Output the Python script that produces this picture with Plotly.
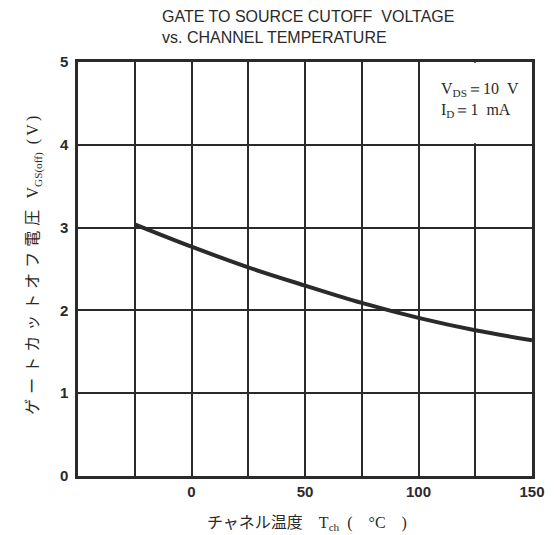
import plotly.graph_objects as go

temps = [-25, 0, 25, 50, 75, 100, 125, 150]
vgs_off = [3.04, 2.77, 2.52, 2.30, 2.09, 1.91, 1.76, 1.64]
x_ticks = [0, 50, 100, 150]
y_ticks = [0, 1, 2, 3, 4, 5]

title_line1 = "GATE TO SOURCE CUTOFF  VOLTAGE"
title_line2 = "vs. CHANNEL TEMPERATURE"

SERIF = "Liberation Serif, DejaVu Serif, serif"
CJK = "Noto Sans CJK JP, sans-serif"
SANS = "Liberation Sans, Arial, sans-serif"

def cjk(text):
    return f"<span style='font-family:{CJK}'>{text}</span>"

gap = "\u2005\u200a"
jp_y = gap.join(list("ゲートカットオフ電圧"))
y_title = (cjk(jp_y) + "\u2002\u2009" + "V<sub>GS(off)</sub>"
           + "\u2002" + "(\u2009V\u2009)")
x_title = (cjk("チャネル温度") + "\u2002\u2002" + "T<sub>ch</sub>"
           + "\u2002" + "(\u2002\u2002°C\u2002\u2002)")
cond_text = "V<sub>DS</sub>＝10\u2002V<br>I<sub>D</sub>＝1\u2002mA"

ink = "#2a2a2a"

fig = go.Figure()
fig.add_trace(go.Scatter(
    x=temps, y=vgs_off, mode="lines",
    line=dict(color=ink, width=4, shape="spline"),
    hoverinfo="skip", showlegend=False,
))

# blank region behind the condition label (hides the 125 gridline there)
fig.add_shape(type="rect", xref="x", yref="y", x0=101, x1=149.5, y0=4.02, y1=4.99,
              fillcolor="white", line=dict(width=0), layer="between")

fig.add_annotation(x=109, y=4.54, xref="x", yref="y", text=cond_text, showarrow=False,
                   xanchor="left", yanchor="middle", align="left",
                   font=dict(family=SERIF, size=16, color=ink))

# titles
fig.add_annotation(x=0.1806, y=1.1099, xref="paper", yref="paper", text=title_line1,
                   showarrow=False, xanchor="left", yanchor="middle",
                   font=dict(family=SANS, size=16, color=ink))
fig.add_annotation(x=0.1806, y=1.0592, xref="paper", yref="paper", text=title_line2,
                   showarrow=False, xanchor="left", yanchor="middle",
                   font=dict(family=SANS, size=16, color=ink))

# axis titles
fig.add_annotation(x=0.5037, y=-0.108, xref="paper", yref="paper", text=x_title,
                   showarrow=False, xanchor="center", yanchor="middle",
                   font=dict(family=SERIF, size=16, color=ink))
fig.add_annotation(x=-0.1013, y=0.508, xref="paper", yref="paper", text=y_title,
                   showarrow=False, xanchor="center", yanchor="middle", textangle=-90,
                   font=dict(family=SERIF, size=16, color=ink))

fig.update_layout(
    width=557, height=535,
    margin=dict(l=78, r=25, t=62, b=59),
    paper_bgcolor="white", plot_bgcolor="white",
    xaxis=dict(range=[-50, 150], tickmode="array", tickvals=x_ticks, ticktext=[str(v) for v in x_ticks],
               showgrid=True, gridcolor=ink, gridwidth=1.6,
               minor=dict(dtick=25, tick0=0, showgrid=True, gridcolor=ink, gridwidth=1.6),
               showline=True, linecolor=ink, linewidth=2.5, mirror=True,
               ticks="", zeroline=False,
               tickfont=dict(family=SANS, size=15, color=ink, weight="bold")),
    yaxis=dict(range=[0, 5], tickmode="array", tickvals=y_ticks, ticktext=[str(v) for v in y_ticks],
               showgrid=True, gridcolor=ink, gridwidth=1.6,
               showline=True, linecolor=ink, linewidth=2.5, mirror=True,
               ticks="", zeroline=False, ticklabelstandoff=4,
               tickfont=dict(family=SANS, size=15, color=ink, weight="bold")),
)

fig.write_html("out.html", config={"displayModeBar": False},
               post_script="document.body.style.margin='0px';document.body.style.overflow='hidden';")
